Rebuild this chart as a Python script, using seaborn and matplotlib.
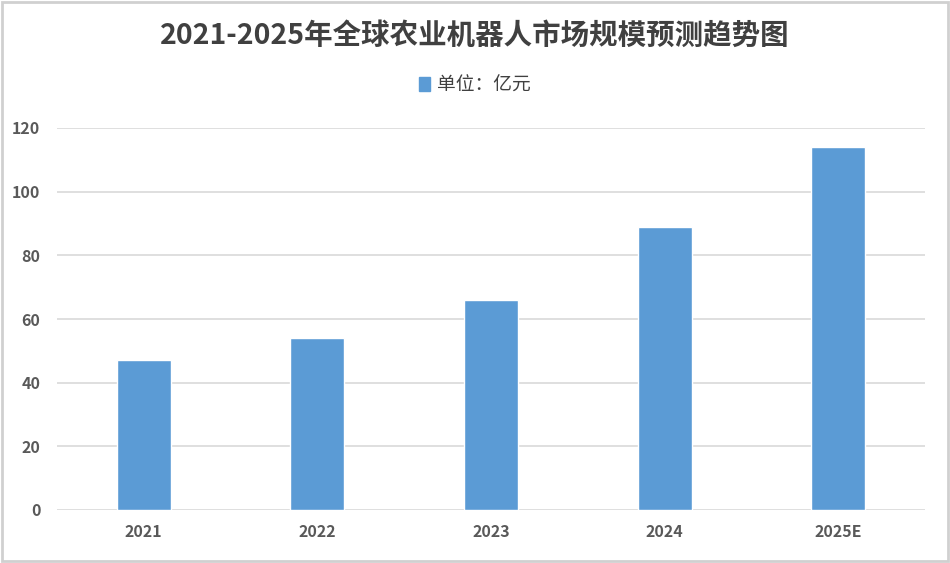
import matplotlib
matplotlib.use('Agg')
import matplotlib.pyplot as plt
import seaborn as sns
import pandas as pd
from matplotlib.patches import Rectangle

years = ['2021', '2022', '2023', '2024', '2025E']
values = [47, 54, 66, 89, 114]
yticks = [0, 20, 40, 60, 80, 100, 120]

sns.set_style('white')
plt.rcParams['font.family'] = ['Noto Sans CJK SC', 'DejaVu Sans']

df = pd.DataFrame({'year': years, 'value': values})

fig = plt.figure(figsize=(9.5, 5.63), dpi=100)
ax = fig.add_axes([57 / 950, 1 - 510 / 563, 868 / 950, 382 / 563])

sns.barplot(data=df, x='year', y='value', color='#5B9BD5', width=0.31,
            saturation=1, ax=ax, zorder=3)

ax.set_ylim(0, 120)
ax.set_yticks(yticks)
ax.grid(axis='y', color='#D9D9D9', linewidth=1.2, zorder=0)
ax.set_axisbelow(True)
for s in ax.spines.values():
    s.set_visible(False)
ax.set_xlabel('')
ax.set_ylabel('')
ax.tick_params(axis='both', length=0, labelsize=11.5, labelcolor='#595959')
ax.tick_params(axis='y', pad=12)
ax.tick_params(axis='x', pad=10)
for lab in ax.get_xticklabels() + ax.get_yticklabels():
    lab.set_fontweight('bold')

fig.text(0.5, 1 - 36 / 563, '2021-2025年全球农业机器人市场规模预测趋势图',
         ha='center', va='center', fontsize=20.5, fontweight='bold', color='#404040')

# legend
handle = Rectangle((0, 0), 1, 1, color='#5B9BD5')
fig.legend([handle], ['单位：亿元'], loc='center', bbox_to_anchor=(0.5, 1 - 85 / 563),
           frameon=False, fontsize=13.5, handlelength=0.55, handleheight=0.7,
           handletextpad=0.4, labelcolor='#404040')

# outer border
fig.patches.append(Rectangle((0.002, 0.003), 0.996, 0.994, transform=fig.transFigure,
                             fill=False, edgecolor='#D0D0D0', linewidth=2))

fig.savefig('out.png', dpi=100)
